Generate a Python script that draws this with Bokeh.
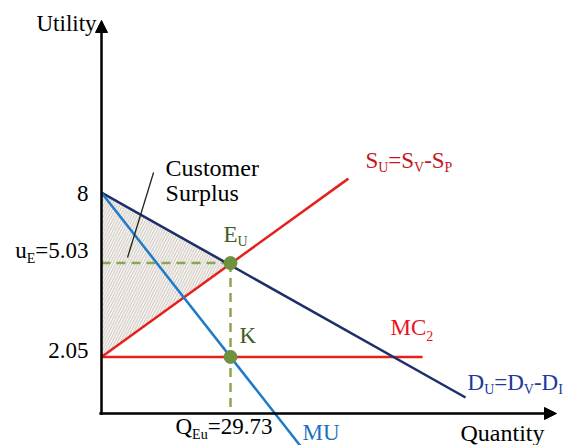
from bokeh.plotting import figure
from bokeh.models import Range1d, Arrow, NormalHead
from bokeh.core.properties import value
from bokeh.embed import file_html
from bokeh.resources import INLINE

# ---------------- data (diagram units: quantity, utility) ----------------
intercept_u = 8.0          # common intercept of D_U and MU
mc_u = 2.05                # MC2 level / S_U intercept
q_eq = 29.73               # equilibrium quantity Q_Eu
u_eq = 5.45                # drawn height of E_U (labelled 5.03)
du_end = [83.9, 0.58]      # end point of D_U = D_V - D_I
su_end = [56.9, 8.51]      # end point of S_U = S_V - S_P
mc_end_q = 74.0            # end of MC2
mu_end_q = 46.0            # end of MU (runs below the axis)
callout = [[6.0, 12.0], [5.65, 8.73]]   # pointer of "Customer Surplus"
y_axis_top = 14.24
x_axis_end = 104.86

tick_labels = ["8", "5.03", "2.05"]
q_label = "29.73"

# ---------------- layout constants ----------------
PX_Q = 4.339     # pixels per quantity unit
PX_U = 27.6      # pixels per utility unit
W, H = 564, 445
FONT = "Liberation Serif"
MAIN, SUB = 23, 14
SHIFT = -8       # baseline correction of the svg text rendering

p = figure(width=W, height=H, output_backend="svg", toolbar_location=None,
           x_axis_location=None, y_axis_location=None,
           x_range=Range1d(-101 / PX_Q, 463 / PX_Q),
           y_range=Range1d(-32 / PX_U, 413 / PX_U),
           min_border=0, outline_line_color=None, background_fill_color="white",
           border_fill_color="white")
p.grid.visible = False

# customer surplus (hatched triangle)
p.patch(x=[0, q_eq, 0], y=[intercept_u, u_eq, mc_u], fill_color="#fbfaf8",
        line_color=None, hatch_pattern="/", hatch_color="#c9c1b8",
        hatch_scale=5.5, hatch_weight=1)

# dashed guides
green = "#8aa653"
p.line([0, q_eq], [u_eq, u_eq], line_color=green, line_width=2.5, line_dash="9 6")
p.line([q_eq, q_eq], [u_eq, 0], line_color=green, line_width=2.5, line_dash="9 6")

# curves
p.line([0, mc_end_q], [mc_u, mc_u], line_color="#e3211f", line_width=2.5)
p.line([0, su_end[0]], [mc_u, su_end[1]], line_color="#e3211f", line_width=2.5)
p.line([0, du_end[0]], [intercept_u, du_end[1]], line_color="#1c2f6b", line_width=2.5)
mu_slope = (mc_u - intercept_u) / q_eq
p.line([0, mu_end_q], [intercept_u, intercept_u + mu_slope * mu_end_q],
       line_color="#1f7bc8", line_width=2.5)

# callout pointer
p.line(callout[0], callout[1], line_color="#222222", line_width=1.3)

# equilibrium points
p.scatter([q_eq, q_eq], [u_eq, mc_u], size=13, fill_color="#6f903d", line_color="#6f903d")

# axes with arrow heads
p.add_layout(Arrow(end=NormalHead(size=12, fill_color="black", line_color="black"),
                   x_start=0, y_start=-0.05, x_end=0, y_end=y_axis_top,
                   line_width=2.5, line_color="black"))
p.add_layout(Arrow(end=NormalHead(size=12, fill_color="black", line_color="black"),
                   x_start=-0.5, y_start=0, x_end=x_axis_end, y_end=0,
                   line_width=2.5, line_color="black"))

# ---------------- texts ----------------
CW = {'S': 556, 'U': 722, 'V': 722, 'P': 556, 'D': 722, 'I': 333, 'E': 611,
      'u': 500, '=': 564, '-': 333, '.': 250, 'Q': 722, 'M': 889, 'C': 667,
      'K': 722, ' ': 250}


def tw(s, size):
    return sum(CW.get(c, 500) for c in s) * size / 1000.0


def rich(x, y, dx, dy, segs, color, size=MAIN, sub=SUB, drop=7, align="left"):
    total = sum(tw(t, sub if s else size) for t, s in segs)
    cur = dx if align == "left" else dx - total
    for t, s in segs:
        fs = sub if s else size
        p.text(x=[x + cur / PX_Q], y=[y - (dy + SHIFT + (drop if s else 0)) / PX_U], text=[t],
               text_font=value(FONT), text_font_size=value(f"{fs}px"),
               text_color=color, text_baseline="alphabetic", text_align="left")
        cur += tw(t, fs)


# axis titles
rich(0, y_axis_top, -65, 11, [("Utility", False)], "black")
rich(x_axis_end, 0, -96, 27, [("Quantity", False)], "black", size=24)

# tick labels on utility axis
rich(0, intercept_u, -13, 8.8, [(tick_labels[0], False)], "black", align="right")
rich(0, u_eq, -13, -4.6, [("u", False), ("E", True), ("=" + tick_labels[1], False)],
     "black", align="right", drop=8)
rich(0, mc_u, -13, 1.6, [(tick_labels[2], False)], "black", align="right")

# quantity label
rich(q_eq, 0, -55, 21, [("Q", False), ("Eu", True), ("=" + q_label, False)], "black", drop=8)

# curve labels
mu_cross = -intercept_u / mu_slope
rich(mu_cross, 0, 27.5, 27, [("MU", False)], "#1f6fc0")
rich(su_end[0], su_end[1], 17, -10,
     [("S", False), ("U", True), ("=S", False), ("V", True), ("-S", False), ("P", True)],
     "#c4141c")
rich(mc_end_q, mc_u, -32, -21.4, [("MC", False), ("2", True)], "#e8141c", drop=8)
rich(du_end[0], du_end[1], 2, -7,
     [("D", False), ("U", True), ("=D", False), ("V", True), ("-D", False), ("I", True)],
     "#22389a")

# point labels
rich(q_eq, u_eq, -7, -20.6, [("E", False), ("U", True)], "#3f5e26")
rich(q_eq, mc_u, 9, -13.4, [("K", False)], "#3f5e26")

# customer surplus label
rich(callout[0][1], callout[1][1], 12, 3, [("Customer", False)], "black", size=24)
rich(callout[0][1], callout[1][1], 12, 28, [("Surplus", False)], "black", size=24)

open("out.html", "w").write(file_html(p, INLINE))
